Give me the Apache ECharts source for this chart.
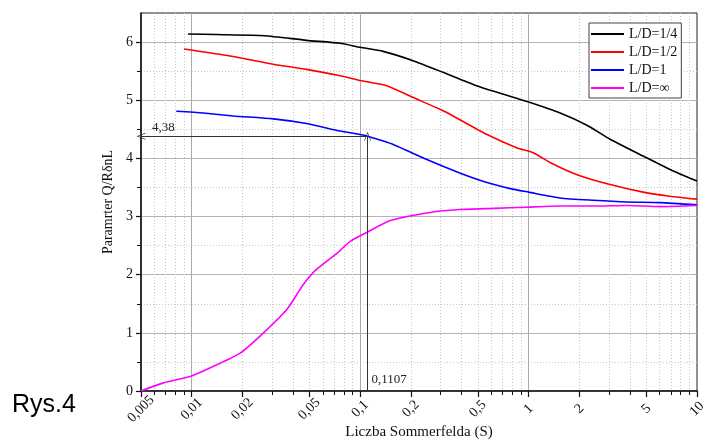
<!DOCTYPE html>
<html>
<head>
<meta charset="utf-8">
<script src="https://cdn.jsdelivr.net/npm/echarts@6/dist/echarts.min.js"></script>
<style>html,body{margin:0;padding:0;background:#fff}#c{width:720px;height:444px}</style>
</head>
<body>
<div id="c"></div>
<script>
// ---- data ----
const seriesNames = ['L/D=1/4', 'L/D=1/2', 'L/D=1', 'L/D=\u221E'];

const xBlack = [0.0095, 0.014, 0.027, 0.048, 0.076, 0.1, 0.137, 0.206, 0.31, 0.49, 0.68, 1.0, 1.54, 2.22, 3.05, 4.79, 6.92, 10];
const yBlack = [6.14, 6.13, 6.11, 6.03, 5.98, 5.91, 5.84, 5.68, 5.48, 5.25, 5.12, 4.97, 4.78, 4.57, 4.33, 4.04, 3.81, 3.61];

const xRed = [0.009, 0.0169, 0.0305, 0.048, 0.076, 0.1, 0.144, 0.205, 0.3, 0.356, 0.567, 0.855, 1.06, 1.34, 1.94, 3.05, 4.79, 6.9, 10];
const yRed = [5.88, 5.76, 5.62, 5.53, 5.42, 5.34, 5.25, 5.05, 4.84, 4.73, 4.41, 4.18, 4.10, 3.93, 3.72, 3.55, 3.42, 3.35, 3.30];

const xBlue = [0.0081, 0.0117, 0.0177, 0.0305, 0.048, 0.076, 0.1, 0.1107, 0.157, 0.249, 0.39, 0.56, 0.78, 1.0, 1.54, 2.42, 3.85, 6.04, 10];
const yBlue = [4.81, 4.78, 4.73, 4.68, 4.60, 4.47, 4.41, 4.38, 4.24, 3.98, 3.75, 3.59, 3.48, 3.42, 3.32, 3.28, 3.25, 3.24, 3.20];

const xMag = [0.005, 0.0068, 0.0098, 0.0134, 0.0194, 0.0265, 0.0367, 0.046, 0.055, 0.073, 0.087, 0.11, 0.151, 0.26, 0.39, 0.62, 0.97, 1.54, 2.42, 3.85, 6.04, 10];
const yMag = [0.0, 0.14, 0.25, 0.42, 0.65, 0.99, 1.40, 1.83, 2.09, 2.37, 2.57, 2.73, 2.93, 3.07, 3.12, 3.14, 3.16, 3.18, 3.18, 3.19, 3.17, 3.19];

// axis ticks
const xLabelTicks = [0.005, 0.01, 0.02, 0.05, 0.1, 0.2, 0.5, 1, 2, 5, 10];
const xMinorTicks = [0.006, 0.007, 0.008, 0.009, 0.03, 0.04, 0.06, 0.07, 0.08, 0.09, 0.3, 0.4, 0.6, 0.7, 0.8, 0.9, 3, 4, 6, 7, 8, 9];
const xMajorGrid = [0.01, 0.1, 1];
const xDottedGrid = [0.006, 0.007, 0.008, 0.009, 0.02, 0.03, 0.04, 0.05, 0.06, 0.07, 0.08, 0.09, 0.2, 0.3, 0.4, 0.5, 0.6, 0.7, 0.8, 0.9, 2, 3, 4, 5, 6, 7, 8, 9];
const yMajorTicks = [0, 1, 2, 3, 4, 5, 6];
const yMinorTicks = [0.5, 1.5, 2.5, 3.5, 4.5, 5.5];

// annotation (read-off point)
const markS = 0.1107;
const markQ = 4.38;
const xMin = 0.005, xMax = 10, yMin = 0, yMax = 6.5;

// ---- chart ----
const serif = 'Liberation Serif';
const fmt = v => String(+(+v).toPrecision(6)).replace('.', ',');
const zip = (xs, ys) => xs.map((x, i) => [x, ys[i]]);
const colors = ['#000000', '#ff0000', '#0000ff', '#ff00ff'];
const chevron = 'path://M0,0 L5,10 L4,10 L0,2 L-4,10 L-5,10 Z';

function xAx(extra) {
  return Object.assign({
    type: 'log', logBase: 10, min: xMin, max: xMax, position: 'bottom',
    axisLine: { show: false }, axisTick: { show: false }, axisLabel: { show: false },
    splitLine: { show: false }, minorTick: { show: false }
  }, extra);
}
function yAx(extra) {
  return Object.assign({
    type: 'value', min: yMin, max: yMax, position: 'left',
    axisLine: { show: false }, axisTick: { show: false }, axisLabel: { show: false },
    splitLine: { show: false }
  }, extra);
}

const chart = echarts.init(document.getElementById('c'), null, { renderer: 'canvas' });
chart.setOption({
  animation: false,
  backgroundColor: '#ffffff',
  textStyle: { fontFamily: serif },
  grid: { left: 141, right: 23, top: 13, bottom: 53, containLabel: false, outerBoundsMode: 'none',
    show: true, borderColor: '#222', borderWidth: 1, backgroundColor: 'transparent' },
  legend: {
    orient: 'vertical', left: 589, top: 23, padding: [2, 4, 1, 2],
    itemWidth: 33, itemHeight: 2, itemGap: 0, icon: 'rect',
    backgroundColor: '#fff', borderColor: '#444', borderWidth: 1,
    textStyle: { fontFamily: serif, fontSize: 14, color: '#111', lineHeight: 18 },
    data: seriesNames
  },
  xAxis: [
    xAx({
      name: 'Liczba Sommerfelda (S)', nameLocation: 'middle', nameGap: 34, nameMoveOverlap: false,
      nameTextStyle: { fontFamily: serif, fontSize: 15, color: '#111' },
      axisLine: { show: true, lineStyle: { color: '#111', width: 1.5 } },
      axisTick: { show: true, length: 6, customValues: xLabelTicks, lineStyle: { color: '#111', width: 1.2 } },
      axisLabel: { show: true, customValues: xLabelTicks, rotate: 45, margin: 18, align: 'center', verticalAlign: 'middle',
        hideOverlap: false, fontFamily: serif, fontSize: 14, color: '#111', formatter: v => fmt(v) }
    }),
    xAx({ axisTick: { show: true, length: 4, customValues: xMinorTicks, lineStyle: { color: '#111', width: 1 } } }),
    xAx({ axisTick: { show: false, customValues: xMajorGrid }, splitLine: { show: true, lineStyle: { color: '#aaaaaa', width: 1, type: 'solid' } } }),
    xAx({ axisTick: { show: false, customValues: xDottedGrid }, splitLine: { show: true, lineStyle: { color: '#c8c8c8', width: 1, type: [1, 2] } } })
  ],
  yAxis: [
    yAx({
      name: 'Paramrter Q/R\u03B4nL', nameLocation: 'middle', nameGap: 26, nameMoveOverlap: false,
      nameTextStyle: { fontFamily: serif, fontSize: 14, color: '#111' },
      axisLine: { show: true, lineStyle: { color: '#111', width: 1.5 } },
      axisTick: { show: true, length: 5, customValues: yMajorTicks, lineStyle: { color: '#111', width: 1.2 } },
      axisLabel: { show: true, customValues: yMajorTicks, margin: 8, fontFamily: serif, fontSize: 14, color: '#111', formatter: v => fmt(v) },
      splitLine: { show: true, lineStyle: { color: '#b4b4b4', width: 1 } }
    }),
    yAx({
      axisTick: { show: true, length: 4, customValues: yMinorTicks, lineStyle: { color: '#111', width: 1 } },
      splitLine: { show: true, lineStyle: { color: '#c8c8c8', width: 1, type: [1, 2] } }
    })
  ],
  series: [
    { name: seriesNames[0], data: zip(xBlack, yBlack) },
    { name: seriesNames[1], data: zip(xRed, yRed) },
    {
      name: seriesNames[2], data: zip(xBlue, yBlue),
      markLine: {
        silent: true, symbol: ['none', 'none'],
        label: { show: false },
        lineStyle: { color: '#333', width: 1, type: 'solid' },
        emphasis: { disabled: true },
        data: [
          [{ coord: [markS, markQ], symbol: 'none' }, { coord: [xMin, markQ], symbol: chevron, symbolSize: [7, 9] }],
          [{ coord: [markS, yMin], symbol: 'none' }, { coord: [markS, markQ], symbol: chevron, symbolSize: [7, 9] }]
        ]
      },
      markPoint: {
        silent: true, symbol: 'circle', symbolSize: 0,
        label: { show: true, fontFamily: serif, fontSize: 13, color: '#222' },
        data: [
          { coord: [xMin, markQ], value: markQ, label: { position: [11, -15], formatter: () => fmt(markQ) } },
          { coord: [markS, yMin], value: markS, label: { position: [4, -18], formatter: () => fmt(markS) } }
        ]
      }
    },
    { name: seriesNames[3], data: zip(xMag, yMag) }
  ].map((s, i) => Object.assign({
    type: 'line', xAxisIndex: 0, yAxisIndex: 0, showSymbol: false, symbol: 'none',
    smooth: 0.2, color: colors[i], lineStyle: { color: colors[i], width: 1.6 }, z: 3
  }, s)),
  graphic: [
    { type: 'text', left: 12, top: 393, style: { text: 'Rys.4', fontFamily: 'Liberation Sans', fontSize: 25, fill: '#000' } }
  ]
});
</script>
</body>
</html>
